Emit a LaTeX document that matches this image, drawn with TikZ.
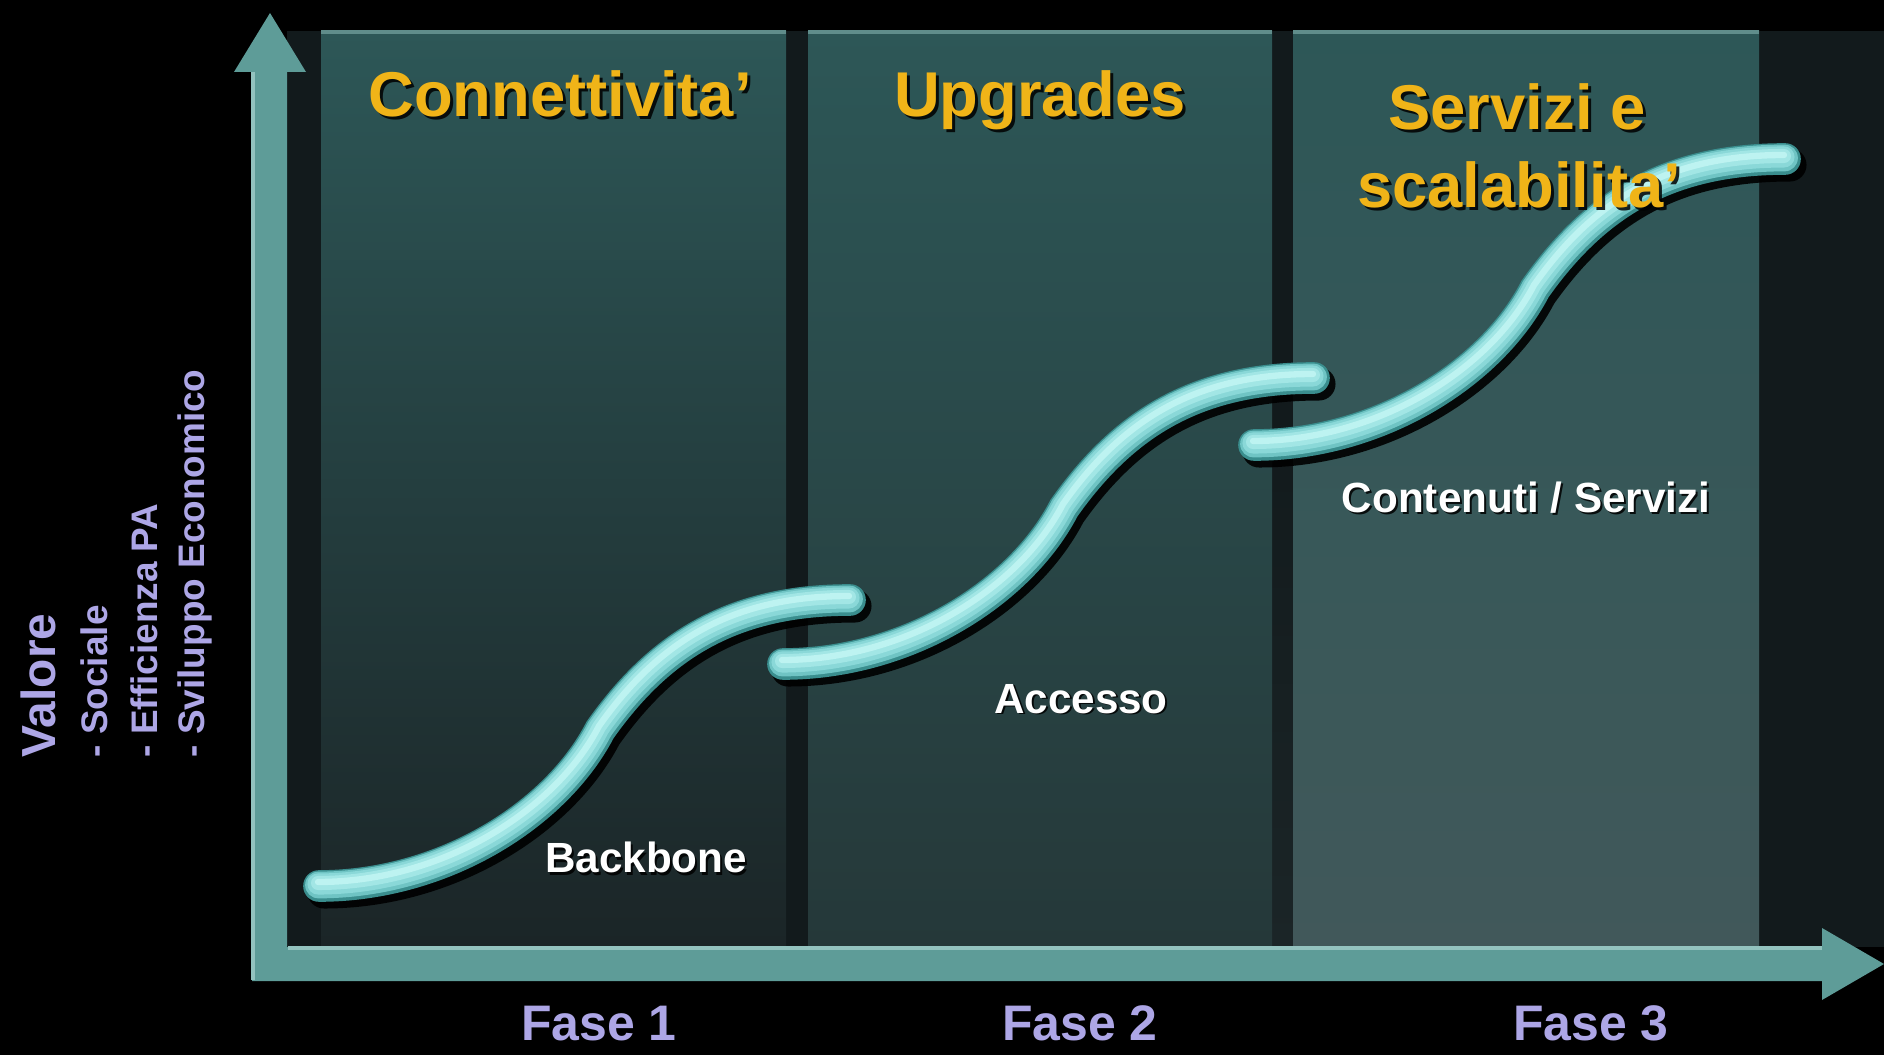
\documentclass[tikz,border=0pt]{standalone}
\usepackage{fontspec}
\setmainfont{Liberation Sans}
\usepackage{tikz}
\usetikzlibrary{calc}
\definecolor{giallo}{HTML}{F0B418}
\definecolor{lilla}{HTML}{ADA6E6}
\definecolor{freccia}{HTML}{5E9C98}
\definecolor{frecciachiara}{HTML}{93C3BF}
\definecolor{pannello}{HTML}{2D5757}
\definecolor{sfondo}{HTML}{121A1C}
\definecolor{fondo1}{HTML}{1B2527}
\definecolor{fondo2}{HTML}{253839}
\definecolor{fondo3}{HTML}{41585A}
\definecolor{nebbia}{HTML}{56686A}
\definecolor{tubobordo}{HTML}{3A8E8E}
\definecolor{tubo1}{HTML}{6FC4C4}
\definecolor{tubo2}{HTML}{8AD8D8}
\definecolor{tubo3}{HTML}{A2E6E5}
\definecolor{tubo4}{HTML}{BDF3F1}
\tikzstyle{titolo}   =[font=\fontsize{18}{20}\selectfont\bfseries, text=giallo, inner sep=0pt, anchor=base]
\tikzstyle{etichetta}=[font=\fontsize{12}{14}\selectfont\bfseries, text=white, inner sep=0pt, anchor=base]
\tikzstyle{fase}     =[font=\fontsize{14.2}{16}\selectfont\bfseries, text=lilla, inner sep=0pt, anchor=base]
\tikzstyle{asse}     =[font=\fontsize{10.5}{12}\selectfont\bfseries, text=lilla, inner sep=0pt, anchor=base west, rotate=90]
\tikzstyle{ombra}    =[text=black, opacity=0.85]

%testo con ombra : stile, nome, x, y, testo, scarto dell'ombra
\newcommand{\conombra}[6]{%
  \node[#1, ombra] (#2-o) at (#3+#6,#4+#6) {#5};
  \node[#1] (#2) at (#3,#4) {#5};}

%un gradino della curva, disegnato a partire da (0,0)
\newcommand{\gradino}[1]{%
  \draw[line cap=round, #1] (0,0) .. controls (124,0) and (237,-71) .. (281,-156)
        .. controls (341,-241) and (414,-286) .. (531,-286);}

\begin{document}
\begin{tikzpicture}[x=0.01cm,y=-0.01cm]
\useasboundingbox (0,0) rectangle (1884,1055);
\fill[black] (0,0) rectangle (1884,1055);

%%%%%%%%%%%%%%%%%%%%%%%%
%%%%%%%%%%%%%%%%%%%%%%%%
%Sfondo e pannelli delle tre fasi
%%%%%%%%%%%%%%%%%%%%%%%%
%%%%%%%%%%%%%%%%%%%%%%%%

\fill[sfondo] (287,31) rectangle (1884,947);
\shade[top color=sfondo, middle color=nebbia, bottom color=fondo1] (1272,420) rectangle (1293,947); %nebbia tra le fasi 2 e 3
\foreach \xa/\xb/\basso in {321/786/fondo1, 808/1272/fondo2, 1293/1759/fondo3}{
  \shade[top color=pannello, middle color=pannello, bottom color=\basso] (\xa,31) rectangle (\xb,945);
  \draw[frecciachiara!50!pannello, line width=1pt] (\xa,32) -- (\xb,32);
}

%%%%%%%%%%%%%%%%%%%%%%%%
%%%%%%%%%%%%%%%%%%%%%%%%
%Assi
%%%%%%%%%%%%%%%%%%%%%%%%
%%%%%%%%%%%%%%%%%%%%%%%%

\def \punta {36}; %semi-larghezza della punta

\coordinate (O) at (252,981) ; %angolo degli assi
\coordinate (V) at (270,13) ; %punta verticale
\coordinate (H) at (1884,964) ; %punta orizzontale
\fill[freccia] (V) -- ++(\punta,59) -- (287,72) -- (287,947) -- (1822,947) -- (1822,928)
  -- (H) -- (1822,1000) -- (1822,981) -- (O) -- (252,72) -- ++(-\punta+18,0) -- cycle;
\draw[frecciachiara, line width=1pt] (253,72) -- (253,980);
\draw[frecciachiara, line width=1pt] (288,948) -- (1822,948);

%%%%%%%%%%%%%%%%%%%%%%%%
%%%%%%%%%%%%%%%%%%%%%%%%
%Curve a gradino (ombra, bordo, corpo, riflesso)
%%%%%%%%%%%%%%%%%%%%%%%%
%%%%%%%%%%%%%%%%%%%%%%%%

\foreach \sx/\sy in {319/886, 783/664, 1254/445}{
\begin{scope}[shift={(\sx,\sy)}]
  \gradino{black, opacity=0.9, line width=9.4pt, shift={(5,6)}}
  \gradino{tubobordo, line width=9pt}
  \gradino{tubo1, line width=7.6pt, shift={(-0.5,-1)}}
  \gradino{tubo2, line width=6pt, shift={(-1,-2)}}
  \gradino{tubo3, line width=4pt, shift={(-1,-3)}}
  \gradino{tubo4, line width=1.8pt, shift={(-1,-4)}}
\end{scope}
}

%titoli delle fasi (sopra le curve)
\conombra{titolo}{conn}{560}{117}{Connettivita’}{3}
\conombra{titolo}{upgr}{1040}{117}{Upgrades}{3}
\conombra{titolo}{serv}{1517}{130}{Servizi e}{3}
\conombra{titolo}{scal}{1519}{208}{scalabilita’}{3}

%etichette delle curve
\conombra{etichetta}{back}{646}{873}{Backbone}{2}
\conombra{etichetta}{acce}{1081}{713}{Accesso}{2}
\conombra{etichetta}{cont}{1526}{513}{Contenuti / Servizi}{2}

%fasi sull'asse orizzontale
\node[fase] (fase1) at (599,1040) {Fase 1};
\node[fase] (fase2) at (1080,1040) {Fase 2};
\node[fase] (fase3) at (1591,1040) {Fase 3};

%valore sull'asse verticale
\node[asse, font=\fontsize{13.6}{15}\selectfont\bfseries] (valore) at (55,758) {Valore};
\node[asse] (sociale) at (107,758) {- Sociale};
\node[asse] (effic) at (157,758) {- Efficienza PA};
\node[asse] (svil) at (204,758) {- Sviluppo Economico};

\end{tikzpicture}
\end{document}
